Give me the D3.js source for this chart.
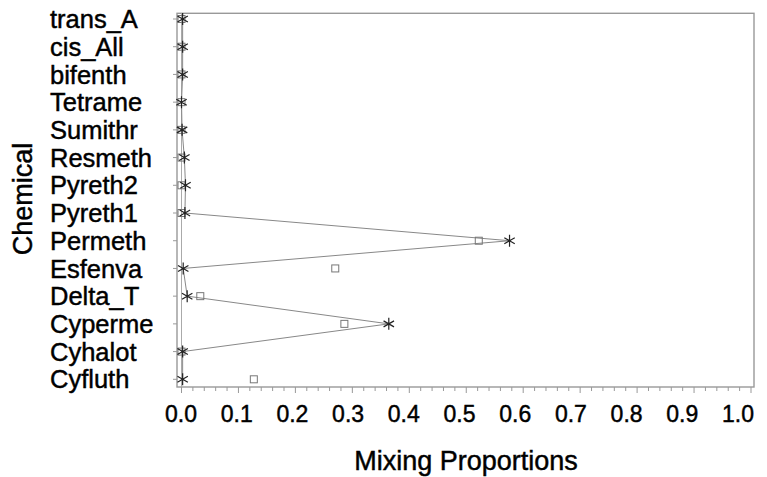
<!DOCTYPE html>
<html>
<head>
<meta charset="utf-8">
<script src="https://cdn.jsdelivr.net/npm/d3@7"></script>
<style>
  body { margin: 0; background: #fff; }
  text { font-family: "Liberation Sans", Arial, sans-serif; fill: #000; stroke: #000; stroke-width: 0.45px; }
</style>
</head>
<body>
<div id="chart"></div>
<script>
// chemicals, top to bottom
const chemicals = ["trans_A", "cis_All", "bifenth", "Tetrame", "Sumithr", "Resmeth", "Pyreth2",
  "Pyreth1", "Permeth", "Esfenva", "Delta_T", "Cyperme", "Cyhalot", "Cyfluth"];
// star series (connected)
const starVals = [0.002, 0.002, 0.002, 0.0, 0.001, 0.005, 0.007,
  0.006, 0.576, 0.003, 0.010, 0.364, 0.002, 0.002];
// square series
const squareVals = [0.0, 0.0, 0.0, 0.0, 0.0, 0.0, 0.0,
  0.0, 0.522, 0.270, 0.033, 0.286, 0.0, 0.127];
const xTicks = [0, 0.1, 0.2, 0.3, 0.4, 0.5, 0.6, 0.7, 0.8, 0.9, 1.0];

let W = 767, H = 477;
let svg = d3.select("#chart").append("svg")
  .attr("width", W).attr("height", H);

let box = {left: 177, right: 754, top: 13.3, bottom: 387};

let x = d3.scaleLinear().domain([0, 1]).range([181.5, 751]);
// tick labels sit a little tighter than the ticks themselves
let xLab = d3.scaleLinear().domain([0, 1]).range([181, 738]);
let y = d3.scalePoint().domain(chemicals).range([19, 379.3]);

// frame
svg.append("rect")
  .attr("x", box.left).attr("y", box.top)
  .attr("width", box.right - box.left).attr("height", box.bottom - box.top)
  .attr("fill", "none").attr("stroke", "#999").attr("stroke-width", 1.4);

// reference line at zero
svg.append("line")
  .attr("x1", x(0)).attr("x2", x(0))
  .attr("y1", box.top).attr("y2", box.bottom)
  .attr("stroke", "#aaa").attr("stroke-width", 1);

// x axis ticks (major + minor)
let minor = d3.range(0, 1.0001, 0.02);
svg.selectAll(".xminor").data(minor).enter().append("line")
  .attr("x1", d => x(d)).attr("x2", d => x(d))
  .attr("y1", box.bottom).attr("y2", (d, i) => box.bottom + (i % 5 == 0 ? 6 : 4))
  .attr("stroke", "#999").attr("stroke-width", 1);

svg.selectAll(".xlab").data(xTicks).enter().append("text")
  .attr("x", d => xLab(d)).attr("y", 422)
  .attr("text-anchor", "middle")
  .style("font-size", "23px")
  .text(d => d3.format(".1f")(d));

// y axis ticks and labels
svg.selectAll(".ytick").data(chemicals).enter().append("line")
  .attr("x1", box.left - 4).attr("x2", box.left)
  .attr("y1", d => y(d)).attr("y2", d => y(d))
  .attr("stroke", "#999").attr("stroke-width", 1);

svg.selectAll(".ylab").data(chemicals).enter().append("text")
  .attr("x", 50).attr("y", d => y(d))
  .attr("dy", "0.36em")
  .style("font-size", "25.5px")
  .text(d => d);

// axis titles
svg.append("text")
  .attr("x", 466).attr("y", 470)
  .attr("text-anchor", "middle")
  .style("font-size", "27px")
  .text("Mixing Proportions");

svg.append("text")
  .attr("transform", "translate(32,199) rotate(-90)")
  .attr("text-anchor", "middle")
  .style("font-size", "27px")
  .text("Chemical");

// line through stars
let line = d3.line()
  .x((d, i) => x(d))
  .y((d, i) => y(chemicals[i]));

svg.append("path")
  .datum(starVals)
  .attr("d", line)
  .attr("fill", "none")
  .attr("stroke", "#888")
  .attr("stroke-width", 1);

// squares
svg.selectAll(".sq").data(squareVals).enter().append("rect")
  .attr("x", d => x(d) - 3.5)
  .attr("y", (d, i) => y(chemicals[i]) - 3.5)
  .attr("width", 7).attr("height", 7)
  .attr("fill", "none").attr("stroke", "#777").attr("stroke-width", 1);

// stars
let r = 6;
let starPath = `M0,${-r}L0,${r}M${-r * 0.87},${-r * 0.5}L${r * 0.87},${r * 0.5}M${-r * 0.87},${r * 0.5}L${r * 0.87},${-r * 0.5}`;
svg.selectAll(".star").data(starVals).enter().append("path")
  .attr("transform", (d, i) => `translate(${x(d)},${y(chemicals[i])})`)
  .attr("d", starPath)
  .attr("fill", "none")
  .attr("stroke", "#222")
  .attr("stroke-width", 1.2);
</script>
</body>
</html>
